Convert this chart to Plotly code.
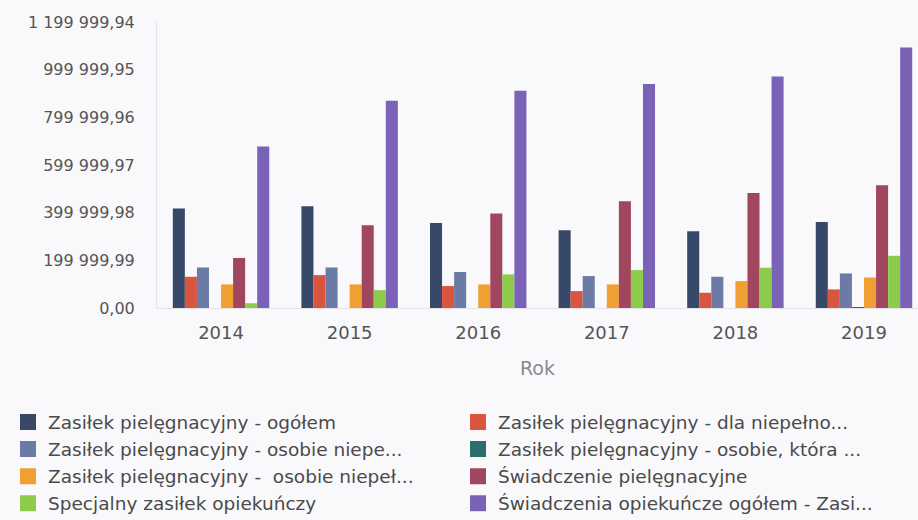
import plotly.graph_objects as go

years = ["2014", "2015", "2016", "2017", "2018", "2019"]

series_names = [
    "Zasiłek pielęgnacyjny - ogółem",
    "Zasiłek pielęgnacyjny - dla niepełno...",
    "Zasiłek pielęgnacyjny - osobie niepe...",
    "Zasiłek pielęgnacyjny - osobie, która ...",
    "Zasiłek pielęgnacyjny -  osobie niepeł...",
    "Świadczenie pielęgnacyjne",
    "Specjalny zasiłek opiekuńczy",
    "Świadczenia opiekuńcze ogółem - Zasi...",
]

ogolem = [418000, 427000, 357000, 326000, 322000, 361000]
dla_niepelno = [131000, 138000, 92000, 71000, 64000, 78000]
osobie_niepe = [170000, 170000, 151000, 134000, 131000, 145000]
osobie_ktora = [None, None, None, None, None, 3000]
osobie_niepel = [99000, 99000, 99000, 99000, 113000, 128000]
swiadczenie = [210000, 347000, 396000, 448000, 482000, 515000]
specjalny = [20000, 75000, 141000, 159000, 169000, 219000]
opiekuncze = [678000, 870000, 912000, 940000, 971000, 1093000]

series_values = [ogolem, dla_niepelno, osobie_niepe, osobie_ktora,
                 osobie_niepel, swiadczenie, specjalny, opiekuncze]

colors = ["#384868", "#d9553f", "#6b7ba6", "#2e6e6a",
          "#f0a032", "#a0465f", "#8ccc4a", "#7a62b6"]

y_tickvals = [0, 199999.99, 399999.98, 599999.97, 799999.96, 999999.95, 1199999.94]
y_ticktext = ["0,00", "199 999,99", "399 999,98", "599 999,97",
              "799 999,96", "999 999,95", "1 199 999,94"]

font_family = "DejaVu Sans, sans-serif"

fig = go.Figure()
for name, vals, col in zip(series_names, series_values, colors):
    fig.add_trace(go.Bar(x=years, y=vals, name=name, marker_color=col,
                         marker_line_width=0, showlegend=False))

# legend entries with larger square swatches
for name, col in zip(series_names, colors):
    fig.add_trace(go.Scatter(
        x=[None], y=[None], mode="markers", name=name,
        marker=dict(symbol="square", size=18, color=col),
        showlegend=True, hoverinfo="skip",
    ))

fig.update_layout(
    width=918, height=520,
    margin=dict(l=157, r=0, t=22, b=212, autoexpand=False),
    paper_bgcolor="#f9f9fb",
    plot_bgcolor="#f9f9fb",
    barmode="group",
    bargap=0.25,
    bargroupgap=0.0,
    font=dict(family=font_family, size=17, color="#555555"),
    xaxis=dict(
        type="category",
        range=[-0.498, 5.42],
        showgrid=False,
        showline=True, linecolor="#e4e4e8", linewidth=1,
        ticks="", tickfont=dict(size=18, color="#555555"),
        ticklabelstandoff=8,
        title=dict(text="Rok", font=dict(size=19, color="#8a8a8a"), standoff=20),
    ),
    yaxis=dict(
        range=[0, 1199999.94],
        tickvals=y_tickvals, ticktext=y_ticktext,
        showgrid=False, zeroline=False,
        showline=True, linecolor="#e4e4e8", linewidth=1,
        ticks="",
        ticklabelstandoff=18,
        tickfont=dict(size=16, color="#555555"),
    ),
    legend=dict(
        orientation="h",
        x=-0.1958, xanchor="left",
        y=-0.334, yanchor="top",
        entrywidth=405, entrywidthmode="pixels",
        font=dict(size=18.5, color="#4a4a4a"),
        traceorder="normal",
        itemsizing="trace",
        bgcolor="rgba(0,0,0,0)",
    ),
)

fig.write_html("out.html")
